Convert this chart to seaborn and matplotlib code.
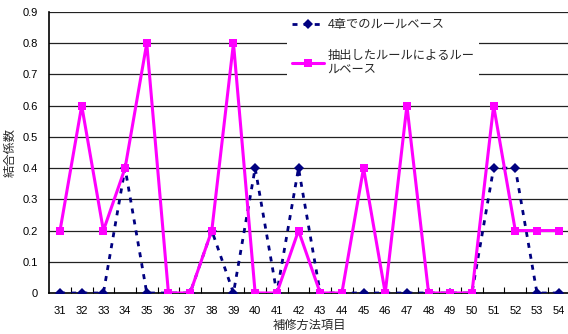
import numpy as np
import pandas as pd
import seaborn as sns
import matplotlib
matplotlib.use("Agg")
import matplotlib.pyplot as plt
from matplotlib.ticker import FixedLocator

# Repair-method item numbers and the two coupling-coefficient series
items = [31, 32, 33, 34, 35, 36, 37, 38, 39, 40, 41, 42,
         43, 44, 45, 46, 47, 48, 49, 50, 51, 52, 53, 54]
rule_base_ch4 = [0, 0, 0, 0.4, 0, 0, 0, 0.2, 0, 0.4, 0, 0.4,
                 0, 0, 0, 0, 0, 0, 0, 0, 0.4, 0.4, 0, 0]
rule_base_extracted = [0.2, 0.6, 0.2, 0.4, 0.8, 0, 0, 0.2, 0.8, 0, 0, 0.2,
                       0, 0, 0.4, 0, 0.6, 0, 0, 0, 0.6, 0.2, 0.2, 0.2]
yticks = [0, 0.1, 0.2, 0.3, 0.4, 0.5, 0.6, 0.7, 0.8, 0.9]
label_ch4 = "4章でのルールベース"
label_ext = "抽出したルールによるルー\nルベース"

sns.set_theme(style="white")
plt.rcParams["font.family"] = ["Liberation Sans", "Noto Sans CJK JP", "DejaVu Sans"]

pos = np.arange(len(items))
df = pd.DataFrame({
    "pos": np.concatenate([pos, pos]),
    "value": rule_base_ch4 + rule_base_extracted,
    "series": [label_ch4] * len(items) + [label_ext] * len(items),
})

fig = plt.figure(figsize=(5.68, 3.34), dpi=100)
W, H = 568, 334
ax = fig.add_axes([49.2 / W, (H - 293) / H, 520.3 / W, 281 / H])

sns.lineplot(data=df[df.series == label_ch4], x="pos", y="value", ax=ax,
             color="#000080", lw=2, linestyle=(0, (1.8, 2.2)),
             marker="D", markersize=5.5, markeredgewidth=0,
             label=label_ch4, zorder=3)
sns.lineplot(data=df[df.series == label_ext], x="pos", y="value", ax=ax,
             color="#FF00FF", lw=2.2, marker="s", markersize=6.3,
             markeredgewidth=0, label=label_ext, zorder=4)

ax.set_xlim(-0.5, len(items) - 0.5)
ax.set_ylim(0, 0.9)
ax.set_yticks(yticks)
ax.set_yticklabels([f"{v:g}" for v in yticks])
ax.set_xticks(pos)
ax.set_xticklabels([str(i) for i in items])
ax.xaxis.set_minor_locator(FixedLocator(pos[:-1] + 0.5))
ax.tick_params(axis="x", which="major", length=0, pad=9.5, labelsize=8, colors="black")
ax.tick_params(axis="x", which="minor", direction="in", length=4, width=0.8,
               color="black", bottom=True)
ax.tick_params(axis="y", length=0, pad=8, labelsize=8, colors="black")

for v in yticks[1:]:
    ax.axhline(v, color="#222222", lw=0.9, zorder=1)

for s in ["top", "right"]:
    ax.spines[s].set_visible(False)
for s in ["left", "bottom"]:
    ax.spines[s].set_color("black")
    ax.spines[s].set_linewidth(1.2)
ax.spines["bottom"].set_zorder(2)

ax.set_xlabel("補修方法項目", fontsize=8.8, labelpad=3)
ax.set_ylabel("結合係数", fontsize=8.8, labelpad=4)

leg = ax.legend(loc="upper left", bbox_to_anchor=(0.457, 0.993), frameon=True,
                fancybox=False, framealpha=1, edgecolor="white", facecolor="white",
                fontsize=8.8, handlelength=2.6, handletextpad=0.3,
                labelspacing=1.55, borderpad=0.4, borderaxespad=0)
leg.get_frame().set_linewidth(0)
leg.set_zorder(5)

fig.savefig("out.png", dpi=100)
